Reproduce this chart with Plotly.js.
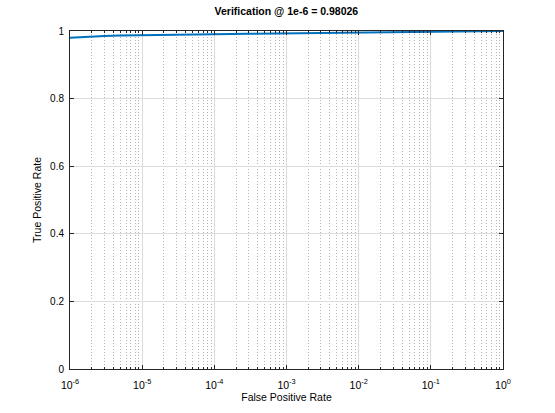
<!DOCTYPE html>
<html>
<head>
<meta charset="utf-8">
<script src="https://cdn.plot.ly/plotly-3.0.1.min.js"></script>
<style>
  html, body { margin: 0; padding: 0; background: #fff; }
  #chart { width: 555px; height: 413px; }
</style>
</head>
<body>
<div id="chart"></div>
<script>
// ROC curve
var fpr = [1e-6, 1.5e-6, 2e-6, 3e-6, 5e-6, 1e-5, 3e-5, 1e-4, 3e-4, 1e-3, 3e-3, 1e-2, 3e-2, 1e-1, 3e-1, 1];
var tpr = [0.98026, 0.9825, 0.9838, 0.9852, 0.9865, 0.9878, 0.9892, 0.9905, 0.9918, 0.9932, 0.9945, 0.9958, 0.9970, 0.9982, 0.9993, 1.0];

var decadeVals = [1e-6, 1e-5, 1e-4, 1e-3, 1e-2, 1e-1, 1];
var decadeText = ['10<sup>-6</sup>', '10<sup>-5</sup>', '10<sup>-4</sup>', '10<sup>-3</sup>',
                  '10<sup>-2</sup>', '10<sup>-1</sup>', '10<sup>0</sup>'];
var yTickVals = [0, 0.2, 0.4, 0.6, 0.8, 1];
var yTickText = ['0', '0.2', '0.4', '0.6', '0.8', '1'];

var minorVals = [];
for (var d = -6; d < 0; d++) {
    for (var m = 2; m <= 9; m++) {
        minorVals.push(m * Math.pow(10, d));
    }
}

var trace = {
    x: fpr,
    y: tpr,
    type: 'scatter',
    mode: 'lines',
    line: {color: '#0072BD', width: 2},
    hoverinfo: 'skip'
};

var layout = {
    width: 555,
    height: 413,
    margin: {l: 70, r: 52, t: 31, b: 44},
    paper_bgcolor: '#fff',
    plot_bgcolor: '#fff',
    showlegend: false,
    font: {family: 'Liberation Sans, Arial, sans-serif', size: 10, color: '#000'},
    title: {
        text: '<b>Verification @ 1e-6 = 0.98026</b>',
        font: {size: 10.5, color: '#000'},
        x: 0.516, xanchor: 'center',
        y: 0.972, yanchor: 'middle'
    },
    xaxis: {
        type: 'log',
        range: [-6, 0],
        tickmode: 'array',
        tickvals: decadeVals,
        ticktext: decadeText,
        ticks: 'inside',
        ticklen: 4,
        tickcolor: '#262626',
        ticklabelstandoff: 6,
        showline: true,
        linecolor: '#262626',
        linewidth: 1,
        mirror: 'allticks',
        showgrid: true,
        gridcolor: '#dcdcdc',
        gridwidth: 1,
        zeroline: false,
        minor: {
            tickmode: 'array',
            tickvals: minorVals,
            ticks: 'inside',
            ticklen: 2,
            tickcolor: '#262626',
            showgrid: true,
            gridcolor: '#b4b4b4',
            griddash: '1px,2px',
            gridwidth: 1
        },
        title: {text: 'False Positive Rate', font: {size: 10.5}, standoff: 2},
        tickfont: {size: 10.5}
    },
    yaxis: {
        range: [0, 1],
        tickmode: 'array',
        tickvals: yTickVals,
        ticktext: yTickText,
        ticks: 'inside',
        ticklen: 4,
        tickcolor: '#262626',
        ticklabelstandoff: 3,
        showline: true,
        linecolor: '#262626',
        linewidth: 1,
        mirror: 'allticks',
        showgrid: true,
        gridcolor: '#dcdcdc',
        gridwidth: 1,
        zeroline: false,
        title: {text: 'True Positive Rate', font: {size: 10.5}, standoff: 6},
        tickfont: {size: 10}
    }
};

Plotly.newPlot('chart', [trace], layout, {displayModeBar: false, staticPlot: true});
</script>
</body>
</html>
